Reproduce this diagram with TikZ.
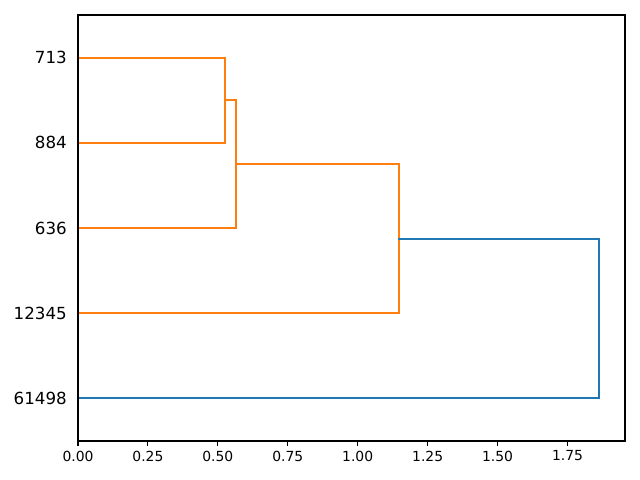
\documentclass[tikz,border=0pt]{standalone}
\usepackage{fontspec}
\setmainfont{DejaVu Sans}
\definecolor{mplblue}{HTML}{1F77B4}
\definecolor{mplorange}{HTML}{FF7F0E}
\tikzset{
  leaflabel/.style={anchor=east, inner sep=0pt, font=\fontsize{12}{14}\selectfont},
  ticklabel/.style={anchor=north, inner sep=0pt, font=\fontsize{10}{12}\selectfont},
  link/.style={line width=1.5pt, line cap=rect},
  axisline/.style={line width=0.8pt},
}
\begin{document}
\begin{tikzpicture}[x=0.72pt, y=-0.72pt]
\useasboundingbox (0,0) rectangle (640,480);
% axes frame
\coordinate (ax00) at (78,441);
\coordinate (ax11) at (625,15);
% leaf positions
\coordinate (L713) at (78,57.6);
\coordinate (L884) at (78,142.8);
\coordinate (L636) at (78,228);
\coordinate (L12345) at (78,313.2);
\coordinate (L61498) at (78,398.4);
% merge corners (x = 78 + d*279.7)
\coordinate (a1) at (225,57.6);
\coordinate (a2) at (225,142.8);
\coordinate (b1) at (236,100.2);
\coordinate (b2) at (236,228);
\coordinate (c1) at (399,164.1);
\coordinate (c2) at (399,313.2);
\coordinate (d1) at (599,238.65);
\coordinate (d2) at (599,398.4);
% links
\draw[link, mplorange] (L713) -- (a1) -- (a2) -- (L884);
\draw[link, mplorange] (a1 |- b1) -- (b1) -- (b2) -- (L636);
\draw[link, mplorange] (b1 |- c1) -- (c1) -- (c2) -- (L12345);
\draw[link, mplblue] (c1 |- d1) -- (d1) -- (d2) -- (L61498);
% frame
\draw[axisline] (ax00) rectangle (ax11);
% leaf labels
\node[leaflabel] (t713) at (67,57.6) {713};
\node[leaflabel] (t884) at (67,142.8) {884};
\node[leaflabel] (t636) at (67,228) {636};
\node[leaflabel] (t12345) at (67,313.2) {12345};
\node[leaflabel] (t61498) at (67,398.4) {61498};
% x ticks
\foreach \v/\lab [count=\i] in {0/0.00,0.25/0.25,0.5/0.50,0.75/0.75,1/1.00,1.25/1.25,1.5/1.50,1.75/1.75}{
  \coordinate (tk\i) at ({78+\v*279.7},441);
  \draw[axisline] (tk\i) -- ++(0,4.9);
  \node[ticklabel] (tl\i) at ({78+\v*279.7},450.5) {\lab};
}
\end{tikzpicture}
\end{document}
